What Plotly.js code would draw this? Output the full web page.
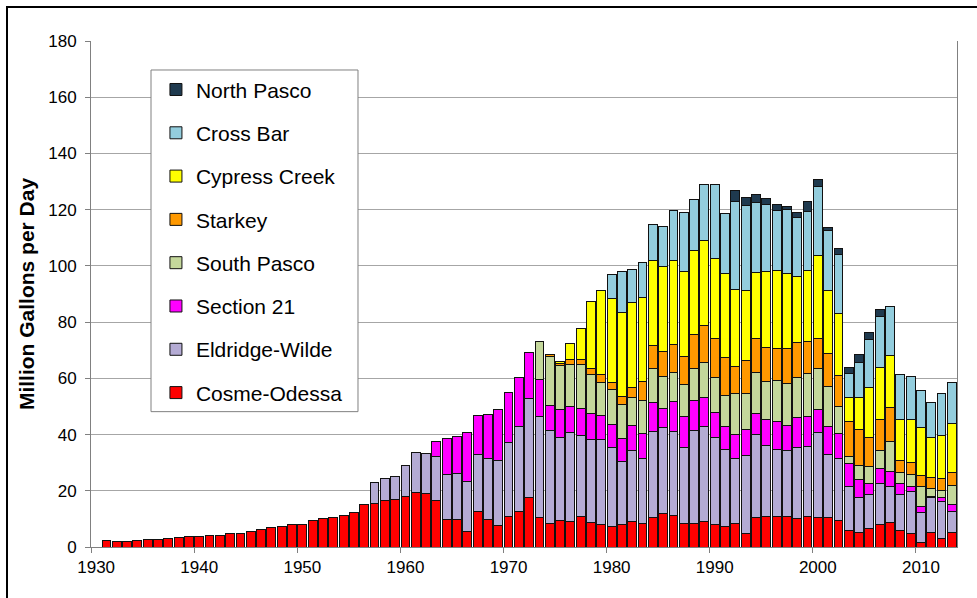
<!DOCTYPE html>
<html><head><meta charset="utf-8">
<script src="https://cdn.plot.ly/plotly-3.0.1.min.js"></script>
<style>
html,body{margin:0;padding:0;background:#fff;overflow:hidden;}
#chart{position:absolute;left:0;top:0;width:977px;height:598px;}
#frame{position:absolute;left:6px;top:6px;width:971px;height:592px;border-top:2px solid #000;border-left:2px solid #000;pointer-events:none;box-sizing:border-box;}
</style></head><body>
<div id="chart"></div><div id="frame"></div>
<script>
// Annual withdrawals, million gallons per day
const cosmeOdessaStart = 1931;
const cosmeOdessa = [2.4,1.9,1.9,2.2,2.8,2.5,3.0,3.4,3.6,3.9,
  4.0,4.0,4.9,4.9,5.5,6.1,6.9,7.3,8.0,8.1,
  9.4,10.1,10.6,11.1,12.3,15.2,15.5,16.4,16.9,17.8,
  19.5,19.0,16.5,9.9,9.9,5.6,12.6,9.8,7.8,10.7,
  12.6,17.5,10.6,8.2,9.4,9.0,10.8,8.7,8.0,7.3,
  8.0,9.0,8.2,10.6,11.8,11.3,8.2,8.2,9.2,7.9,
  7.2,8.2,4.8,10.4,10.7,10.7,10.7,10.1,10.7,10.4,
  10.4,9.4,5.9,5.0,6.6,8.0,8.6,5.9,4.8,1.5,
  5.0,2.9,5.0];
const eldridgeWildeStart = 1957;
const eldridgeWilde = [7.6,8.0,8.1,11.3,
  14.0,14.3,15.6,15.9,16.2,17.6,20.2,21.6,23.1,26.6,
  30.4,35.2,35.7,33.3,29.7,31.8,28.8,29.6,30.1,28.0,
  22.3,25.4,23.2,30.6,30.6,29.9,27.1,33.3,33.8,30.9,
  27.5,23.2,27.8,29.6,25.4,24.0,23.7,25.2,25.2,30.2,
  22.5,22.0,15.7,12.7,12.1,14.6,12.8,12.8,15.1,10.7,
  12.5,13.4,7.7];
const section21Start = 1963;
const section21 = [5.6,12.7,13.3,17.4,14.0,15.7,18.0,17.5,
  17.3,16.6,13.3,9.0,9.7,9.1,9.6,9.1,8.7,8.4,
  8.4,8.9,9.0,10.1,6.9,10.4,11.2,10.7,10.1,8.9,
  8.3,8.5,9.2,7.4,9.3,9.8,8.9,10.6,10.4,8.3,
  9.9,9.0,8.0,6.3,3.9,5.3,5.5,3.9,1.7,2.1,
  0.6,1.2,2.4];
const southPascoStart = 1973;
const southPasco = [13.5,17.1,15.8,15.0,15.8,13.9,11.8,12.3,
  12.0,10.0,11.7,12.1,11.5,10.6,11.2,11.2,12.4,12.7,
  10.9,14.7,12.7,14.8,13.5,14.6,15.0,14.4,15.4,14.5,
  14.4,9.5,2.7,5.0,6.1,6.5,10.7,4.0,4.2,7.3,
  2.7,2.6,6.9];
const starkeyStart = 1974;
const starkey = [0.8,0.8,1.7,1.8,2.3,2.7,2.5,
  3.0,3.4,6.7,8.4,8.9,10.0,10.2,12.2,13.4,13.6,
  13.4,9.5,12.0,12.0,11.9,11.6,12.3,12.3,11.5,10.6,
  11.5,11.2,12.2,12.8,10.1,11.1,11.9,4.1,4.1,3.8,
  3.8,4.3,4.4];
const cypressCreekStart = 1975;
const cypressCreek = [0.5,5.7,11.1,23.6,30.1,29.8,
  29.6,30.2,29.8,30.1,30.2,29.7,30.0,29.9,30.1,28.6,
  30.0,27.5,24.8,23.5,27.2,27.8,26.7,23.5,25.3,29.7,
  22.7,22.0,8.8,11.5,17.8,18.5,18.5,14.8,15.4,17.0,
  14.2,15.4,17.4];
const crossBarStart = 1980;
const crossBar = [8.6,
  14.6,11.8,12.5,12.8,14.0,17.9,21.2,18.1,20.0,26.4,
  21.2,31.4,30.2,25.0,23.8,21.2,22.6,21.2,21.0,24.7,
  21.2,20.8,8.4,12.4,17.2,18.1,17.6,15.8,15.2,13.3,
  12.7,14.7,14.6];
const northPascoStart = 1992;
const northPasco = [3.8,2.7,2.7,2.3,2.2,1.4,1.6,3.3,2.3,1.2,2.3,2.0,2.8,2.4,2.4];

const tickYears = [1930,1940,1950,1960,1970,1980,1990,2000,2010];
const tickLabels = ["1930","1940","1950","1960","1970","1980","1990","2000","2010"];
const yTicks = [0,20,40,60,80,100,120,140,160,180];

const seriesDefs = [
  {name:"Cosme-Odessa", start:cosmeOdessaStart, vals:cosmeOdessa, color:"#FF0000"},
  {name:"Eldridge-Wilde", start:eldridgeWildeStart, vals:eldridgeWilde, color:"#B4ABD4"},
  {name:"Section 21", start:section21Start, vals:section21, color:"#FF00FF"},
  {name:"South Pasco", start:southPascoStart, vals:southPasco, color:"#C4D79B"},
  {name:"Starkey", start:starkeyStart, vals:starkey, color:"#FF9900"},
  {name:"Cypress Creek", start:cypressCreekStart, vals:cypressCreek, color:"#FFFF00"},
  {name:"Cross Bar", start:crossBarStart, vals:crossBar, color:"#93CDDD"},
  {name:"North Pasco", start:northPascoStart, vals:northPasco, color:"#1F3A4F"}
];

const FONT = "Arial, 'Liberation Sans', sans-serif";
const traces = seriesDefs.map((s, k) => ({
  type:"bar",
  name:s.name,
  legendgroup:s.name,
  legendrank: seriesDefs.length - k,
  x:s.vals.map((v,i)=>s.start+i),
  y:s.vals,
  marker:{color:s.color, line:{color:"#111", width:1}},
  hoverinfo:"x+y+name"
}));
// invisible helper trace for the boundary tick marks axis
traces.push({type:"scatter", x:[], y:[], xaxis:"x2", showlegend:false, hoverinfo:"skip"});

const layout = {
  width:977, height:598,
  margin:{l:91, r:20, t:41, b:51, pad:0},
  paper_bgcolor:"#fff", plot_bgcolor:"#fff",
  barmode:"stack", bargap:0.14,
  font:{family:FONT, color:"#000"},
  showlegend:true,
  legend:{x:0.075, y:0.944, xanchor:"left", yanchor:"top",
    bgcolor:"rgba(0,0,0,0)", borderwidth:0,
    traceorder:"grouped", tracegroupgap:13,
    font:{family:FONT, size:21, color:"#000"}},
  xaxis:{range:[1929.5,2013.5], tickmode:"array", tickvals:tickYears, ticktext:tickLabels,
    ticks:"", showline:true, linecolor:"#808080", linewidth:1, showgrid:false, zeroline:false,
    ticklabelstandoff:5,
    tickfont:{family:FONT, size:17, color:"#000"}, fixedrange:true},
  xaxis2:{overlaying:"x", anchor:"y", side:"bottom", range:[1929.5,2013.5], tickmode:"array",
    tickvals:tickYears.map(t=>t-0.5), ticks:"outside", ticklen:5, tickcolor:"#808080",
    showticklabels:false, showline:false, showgrid:false, zeroline:false},
  yaxis:{range:[0,180], tickmode:"array", tickvals:yTicks, ticks:"outside", ticklen:5, tickcolor:"#808080",
    showline:true, mirror:true, linecolor:"#808080", linewidth:1,
    showgrid:true, gridcolor:"#A6A6A6", gridwidth:1, zeroline:false,
    ticklabelstandoff:5,
    tickfont:{family:FONT, size:17, color:"#000"},
    title:{text:"Million Gallons per Day", font:{family:FONT, size:21, color:"#000", weight:"bold"}, standoff:7}},
  shapes:[{type:"rect", xref:"paper", yref:"paper", x0:0.0693, x1:0.3083, y0:0.2675, y1:0.9427,
    line:{color:"#808080", width:1}, fillcolor:"#fff", layer:"above"}]
};
Plotly.newPlot("chart", traces, layout, {staticPlot:true, displayModeBar:false});
</script></body></html>
